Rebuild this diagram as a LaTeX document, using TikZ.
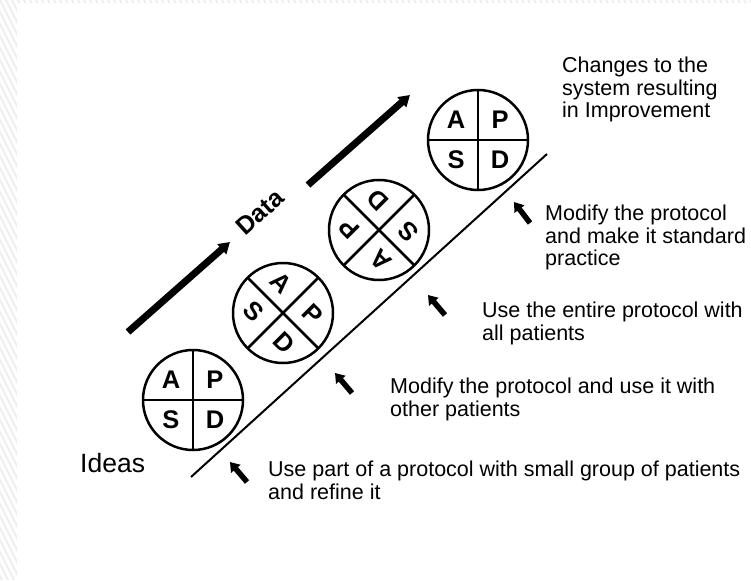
\documentclass[tikz,border=0pt]{standalone}
\usepackage{fontspec}
\setmainfont{Liberation Sans}
\usetikzlibrary{arrows.meta}
\begin{document}
\begin{tikzpicture}[x=1pt,y=-1pt,
  lbl/.style={anchor=north west, inner sep=0pt, align=left, font=\fontsize{21.5}{22.5}\selectfont},
  pdsa/.style={circle, draw, line width=2.5pt, minimum size=100pt, inner sep=0pt, outer sep=0pt},
  divider/.style={line width=2.5pt},
  letter/.style={font=\fontsize{25.5}{25.5}\bfseries\selectfont, inner sep=0pt},
  bigarrow/.style={line width=7pt, -{Triangle[length=11pt,width=13pt]}},
  smallarrow/.style={line width=5.5pt, -{Triangle[length=9pt,width=12pt]}},
  hatch/.style={black!7, line width=2pt},
]
\useasboundingbox (0,0) rectangle (751,580);
% faint hatched border
\begin{scope}
  \clip (0,0) rectangle (17,580) (17,0) rectangle (751,3);
  \foreach \i in {-300,-294,...,756} \draw[hatch] (\i,0) -- ++(300,600);
\end{scope}
% PDSA circles
\foreach \n/\x/\y/\r in {1/193/400/0, 2/283/313/-45, 3/379/230/-225, 4/478/140/0} {
  \begin{scope}[shift={(\x,\y)}, rotate=\r, transform shape]
    \node[pdsa] (c\n) at (0,0) {};
    \draw[divider] (c\n.north) -- (c\n.south) (c\n.west) -- (c\n.east);
    \node[letter] (a\n) at (-22,-20) {A};
    \node[letter] (p\n) at (22,-20) {P};
    \node[letter] (s\n) at (-22,20) {S};
    \node[letter] (d\n) at (22,20) {D};
  \end{scope}
}
% ramp line
\coordinate (l1) at (191,477);
\coordinate (l2) at (547,154);
\draw[line width=2pt] (l1) -- (l2);
% data arrows
\coordinate (da1) at (128,332);
\coordinate (db1) at (230,242);
\coordinate (da2) at (308,185);
\coordinate (db2) at (410,95);
\draw[bigarrow] (da1) -- (db1);
\draw[bigarrow] (da2) -- (db2);
\node[rotate=42, inner sep=0pt, font=\fontsize{25}{25}\bfseries\selectfont] (data) at (260,212) {Data};
% small arrows
\coordinate (sa1) at (530,223); \coordinate (sb1) at (514,202);
\coordinate (sa2) at (445,315); \coordinate (sb2) at (428,295);
\coordinate (sa3) at (352,393); \coordinate (sb3) at (335,373);
\coordinate (sa4) at (247,482); \coordinate (sb4) at (230,462);
\foreach \k in {1,2,3,4} \draw[smallarrow] (sa\k) -- (sb\k);
% labels
\node[lbl] (t0) at (562,57) {Changes to the\\system resulting\\in Improvement};
\node[lbl] (t1) at (545,205) {Modify the protocol\\and make it standard\\practice};
\node[lbl] (t2) at (482,302) {Use the entire protocol with\\all patients};
\node[lbl] (t3) at (390,378) {Modify the protocol and use it with\\other patients};
\node[lbl] (t4) at (268,461) {Use part of a protocol with small group of patients\\and refine it};
\node[anchor=base west, inner sep=0pt, font=\fontsize{26.5}{26.5}\selectfont] (ideas) at (80,472) {Ideas};
\end{tikzpicture}
\end{document}
